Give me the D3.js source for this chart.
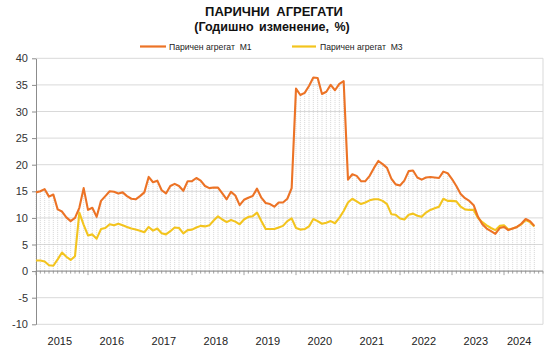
<!DOCTYPE html>
<html><head><meta charset="utf-8">
<script src="https://cdn.jsdelivr.net/npm/d3@7"></script>
<style>
body{margin:0;background:#fff;}
svg{font-family:"Liberation Sans",Arial,sans-serif;}
</style></head>
<body><svg id="c" width="549" height="354"></svg>
<script>
// Monthly data, Jan 2015 – Aug 2024
const startYear = 2015;
const m1 = [14.8,15.0,15.4,14.0,14.4,11.6,11.2,10.1,9.4,10.0,11.9,15.6,
  11.5,11.9,10.2,13.2,14.1,15.0,14.9,14.6,14.8,14.1,13.6,13.5,
  14.1,14.8,17.7,16.7,17.0,15.2,14.6,16.0,16.4,16.0,15.1,16.9,
  16.9,17.5,17.0,16.0,15.6,15.7,15.7,14.6,13.5,14.9,14.2,12.4,
  13.4,13.8,14.1,15.5,13.8,12.8,12.6,12.1,12.9,12.9,13.6,15.6,
  34.3,33.1,33.5,34.8,36.4,36.3,33.3,33.7,35.0,34.0,35.2,35.7,
  17.2,18.2,17.9,16.9,16.9,17.9,19.4,20.7,20.1,19.4,17.4,16.3,
  16.1,17.0,18.8,18.9,17.6,17.2,17.6,17.7,17.6,17.5,18.7,18.4,
  17.3,16.0,14.5,13.7,13.2,12.4,10.2,8.8,8.0,7.5,7.0,8.1,
  8.3,7.7,8.0,8.3,8.9,9.8,9.4,8.5];
const m3 = [2.0,2.0,1.8,1.1,1.0,2.2,3.5,2.7,2.1,2.8,11.0,8.7,
  6.7,6.9,6.1,7.9,8.1,8.8,8.6,8.9,8.6,8.3,8.0,7.8,
  7.6,7.3,8.3,7.6,8.0,7.1,6.9,7.5,8.2,8.1,7.1,7.7,
  7.8,8.2,8.5,8.4,8.6,9.5,10.3,9.7,9.2,9.6,9.3,8.8,
  9.7,10.2,10.3,11.0,9.4,7.9,7.9,7.9,8.2,8.5,9.4,9.9,
  8.1,7.8,7.9,8.4,9.8,9.4,8.9,9.1,9.4,9.0,10.0,11.3,
  12.9,13.6,13.1,12.6,12.9,13.3,13.5,13.5,13.2,12.6,10.7,10.6,
  9.9,9.7,10.6,10.8,10.4,10.2,11.0,11.5,11.8,12.1,13.6,13.2,
  13.2,13.1,12.1,11.6,11.5,11.5,10.0,9.2,8.6,8.1,7.7,8.5,
  8.6,7.8,8.0,8.3,8.8,9.6,9.2,8.4];
const yearLabels = ["2015","2016","2017","2018","2019","2020","2021","2022","2023","2024"];
const yTicks = [-10,-5,0,5,10,15,20,25,30,35,40];
const seriesNames = ["Паричен агрегат  М1","Паричен агрегат  М3"];
const title = "ПАРИЧНИ АГРЕГАТИ";
const subtitle = "(Годишно изменение, %)";

const colors = ["#EC7326","#F3C41E"];
const svg = d3.select("#c");
const x = d3.scaleLinear().domain([0,117]).range([36,543]);
const y = d3.scaleLinear().domain([-10,40]).range([324.3,58.3]);
const n = m1.length;

// gridlines
svg.append("g").selectAll("line").data(yTicks).join("line")
  .attr("x1",x(0)).attr("x2",x(117)).attr("y1",d=>y(d)).attr("y2",d=>y(d))
  .attr("stroke","#d9d9d9").attr("stroke-width",1);
svg.append("line").attr("x1",x(117)).attr("x2",x(117)).attr("y1",y(40)).attr("y2",y(-10))
  .attr("stroke","#d9d9d9");

// drop lines
svg.append("g").selectAll("line").data(d3.range(n)).join("line")
  .attr("x1",i=>x(i)).attr("x2",i=>x(i))
  .attr("y1",y(0)).attr("y2",i=>y(Math.max(m1[i],m3[i])))
  .attr("stroke","#c4c4c4").attr("stroke-width",0.7).attr("stroke-dasharray","1,1");

// y axis
const ya = svg.append("g").attr("transform",`translate(${x(0)},0)`)
  .call(d3.axisLeft(y).tickValues(yTicks).tickFormat(d=>String(d)).tickSize(4).tickSizeOuter(0));
ya.select(".domain").attr("stroke","#8c8c8c");
ya.selectAll(".tick line").attr("stroke","#8c8c8c");
ya.selectAll(".tick text").attr("font-size","11px").attr("fill","#333").attr("x",-8)
  .attr("font-family","Liberation Sans, Arial, sans-serif");

// x axis at zero
const xa = svg.append("g").attr("transform",`translate(0,${y(0)})`);
xa.append("line").attr("x1",x(0)).attr("x2",x(117)).attr("stroke","#8c8c8c");
xa.selectAll("line.mt").data(d3.range(0,118)).join("line").attr("class","mt")
  .attr("x1",i=>x(i)).attr("x2",i=>x(i)).attr("y1",0).attr("y2",i=>i%12===0?4:2.5)
  .attr("stroke","#8c8c8c").attr("stroke-width",0.8);

// year labels
svg.append("g").selectAll("text").data(yearLabels).join("text")
  .attr("x",(d,k)=>{const a=k*12, b=Math.min(k*12+11,n-1); return x((a+b)/2);})
  .attr("y",345).attr("text-anchor","middle").attr("font-size","11px").attr("fill","#222")
  .text(d=>d);

// lines
const line = d3.line().x((d,i)=>x(i)).y(d=>y(d));
[m3,m1].forEach((s,k)=>{
  svg.append("path").datum(s).attr("d",line).attr("fill","none")
    .attr("stroke",k===0?colors[1]:colors[0]).attr("stroke-width",2.1).attr("stroke-linejoin","round");
});

// titles
svg.append("text").attr("x",274).attr("y",16).attr("text-anchor","middle")
  .attr("font-weight","bold").attr("font-size","13px").attr("word-spacing","3px").attr("fill","#111").text(title);
svg.append("text").attr("x",272).attr("y",30.5).attr("text-anchor","middle")
  .attr("font-weight","bold").attr("font-size","12.5px").attr("word-spacing","2px").attr("fill","#111").text(subtitle);

// legend
const lg = [{x1:140,x2:166,tx:169},{x1:292,x2:316,tx:320}];
lg.forEach((p,k)=>{
  svg.append("line").attr("x1",p.x1).attr("x2",p.x2).attr("y1",46.5).attr("y2",46.5)
    .attr("stroke",colors[k]).attr("stroke-width",2.2);
  svg.append("text").attr("x",p.tx).attr("y",49.5).attr("font-size","8.6px").attr("fill","#222")
    .attr("xml:space","preserve").style("white-space","pre").text(seriesNames[k]);
});
</script></body></html>
